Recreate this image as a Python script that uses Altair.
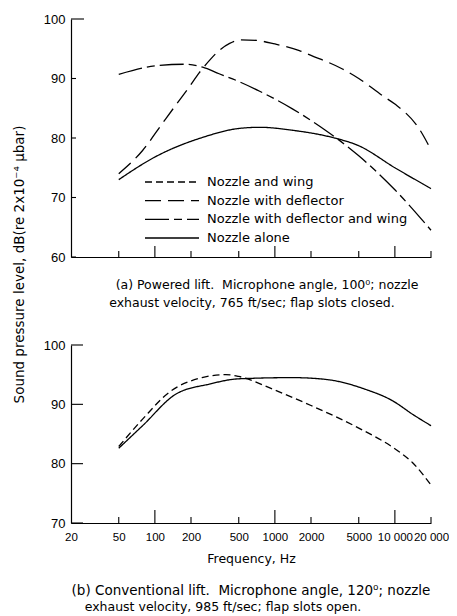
import altair as alt
import pandas as pd

FONT = "DejaVu Sans"
NUM_FONT = "Liberation Sans"

# ---------------- series names and dash styles ----------------
names = ["Nozzle and wing", "Nozzle with deflector",
         "Nozzle with deflector and wing", "Nozzle alone"]
dashes = [[7, 4], [16, 7], [24, 5, 8, 5], [1, 0]]

# ---------------- panel (a): powered lift ----------------
a_alone_f = [50, 100, 250, 500, 750, 1400, 3000, 5000, 10000, 20000]
a_alone_db = [73.0, 76.8, 80.1, 81.6, 81.8, 81.3, 80.1, 78.7, 75.0, 71.5]

a_defl_f = [50, 79, 115, 149, 192, 233, 284, 343, 420, 520, 700, 1000, 1600, 2000,
            3660, 5000, 7900, 10000, 16000, 20000]
a_defl_db = [74.0, 77.9, 82.4, 85.5, 88.5, 90.9, 93.0, 94.7, 95.9, 96.5, 96.4, 95.8, 94.7,
             93.9, 91.6, 90.0, 87.1, 85.7, 81.5, 78.0]

a_dw_f = [50, 108, 181, 250, 343, 500, 740, 1400, 2600, 3200, 5000, 10000, 20000]
a_dw_db = [90.7, 92.2, 92.4, 91.9, 90.8, 89.5, 87.9, 84.9, 81.4, 80.1, 77.0, 71.3, 64.5]

# ---------------- panel (b): conventional lift ----------------
b_alone_f = [50, 79, 149, 283, 500, 1400, 2660, 5740, 9570, 14100, 20000]
b_alone_db = [82.6, 86.4, 91.7, 93.4, 94.3, 94.5, 94.2, 92.5, 90.6, 88.3, 86.4]

b_wing_f = [50, 79, 131, 247, 390, 500, 1000, 2000, 5000, 10000, 14000, 20000]
b_wing_db = [82.9, 87.5, 92.0, 94.5, 95.0, 94.7, 92.4, 89.8, 86.0, 82.5, 80.2, 76.4]

# ---------------- axes ----------------
x_ticks = [20, 50, 100, 200, 500, 1000, 2000, 5000, 10000, 20000]
major_ticks = [100, 1000, 10000]
minor_ticks = [50, 200, 500, 2000, 5000, 20000]
a_yticks = [60, 70, 80, 90, 100]
b_yticks = [70, 80, 90, 100]

y_title = "Sound pressure level, dB(re 2x10\u207b\u2074 \u03bcbar)"
cap_a = ["(a) Powered lift.\u00a0 Microphone angle, 100\u2070; nozzle",
         "exhaust velocity, 765 ft/sec; flap slots closed."]
cap_b = ["(b) Conventional lift.\u00a0 Microphone angle, 120\u2070; nozzle",
         "exhaust velocity, 985 ft/sec; flap slots open."]


def series_df(pairs):
    frames = []
    for name, f, d in pairs:
        frames.append(pd.DataFrame({"freq": f, "db": d, "series": name}))
    return pd.concat(frames, ignore_index=True)


a_df = series_df([(names[1], a_defl_f, a_defl_db),
                  (names[2], a_dw_f, a_dw_db),
                  (names[3], a_alone_f, a_alone_db)])
b_df = series_df([(names[0], b_wing_f, b_wing_db),
                  (names[3], b_alone_f, b_alone_db)])

W = 360
H1 = 238
H2 = 178

xscale = alt.Scale(type="log", domain=[20, 20000])
dash_scale = alt.Scale(domain=names, range=dashes)


def caption_layer(text, x, y, size):
    return alt.Chart(pd.DataFrame({"t": [text]})).mark_text(
        align="center", baseline="middle", font=FONT, fontSize=size, color="black"
    ).encode(text="t:N", x=alt.value(x), y=alt.value(y))


def panel(df, ydom, yticks, H, ytick_len, ytop_len, xmaj_len, xmin_len, show_xlabels,
          with_ytitle):
    yscale = alt.Scale(domain=ydom, nice=False, zero=False)
    yaxis_kw = dict(values=yticks, ticks=False, grid=False, labelPadding=6,
                    labelFontSize=13, labelFont=NUM_FONT, labelColor="black",
                    domainColor="black", domainWidth=1.2)
    if with_ytitle:
        yaxis_kw.update(title=y_title, titleFont=FONT, titleFontSize=13.5,
                        titleFontWeight="normal", titleColor="black",
                        titleX=-45, titleY=-81)
    else:
        yaxis_kw.update(title=None)
    xaxis_kw = dict(values=x_ticks, ticks=False, grid=False, domainColor="black",
                    domainWidth=1.2)
    if show_xlabels:
        xaxis_kw.update(labels=True, labelFont=NUM_FONT, labelFontSize=11.5,
                        labelColor="black", labelPadding=8, labelFlush=False,
                        labelOverlap=False,
                        labelExpr="datum.value >= 10000 ? format(datum.value/1000, 'd') + ' 000' : format(datum.value, 'd')",
                        title="Frequency, Hz", titleFont=FONT, titleFontSize=12.5,
                        titleFontWeight="normal", titleColor="black", titlePadding=10)
    else:
        xaxis_kw.update(labels=False, title=None)

    lines = alt.Chart(df).mark_line(color="black", strokeWidth=1.3,
                                    interpolate="monotone").encode(
        x=alt.X("freq:Q", scale=xscale, axis=alt.Axis(**xaxis_kw)),
        y=alt.Y("db:Q", scale=yscale, axis=alt.Axis(**yaxis_kw)),
        strokeDash=alt.StrokeDash("series:N", scale=dash_scale, legend=None),
        detail="series:N",
    )

    xmaj = alt.Chart(pd.DataFrame({"freq": major_ticks})).mark_rule(
        color="black", strokeWidth=1.1).encode(
        x=alt.X("freq:Q", scale=xscale),
        y=alt.value(H), y2=alt.value(H - xmaj_len))
    xmin = alt.Chart(pd.DataFrame({"freq": minor_ticks})).mark_rule(
        color="black", strokeWidth=1.1).encode(
        x=alt.X("freq:Q", scale=xscale),
        y=alt.value(H), y2=alt.value(H - xmin_len))
    ytk = alt.Chart(pd.DataFrame({"db": yticks[:-1]})).mark_rule(
        color="black", strokeWidth=1.1).encode(
        y=alt.Y("db:Q", scale=yscale),
        x=alt.value(0), x2=alt.value(ytick_len))
    ytop = alt.Chart(pd.DataFrame({"db": yticks[-1:]})).mark_rule(
        color="black", strokeWidth=1.1).encode(
        y=alt.Y("db:Q", scale=yscale),
        x=alt.value(0), x2=alt.value(ytop_len))

    return alt.layer(lines, xmaj, xmin, ytk, ytop)


top_core = panel(a_df, [60, 100], a_yticks, H1, 5, 13, 11, 6, False, False)

leg_df = pd.DataFrame({"series": names, "row": list(range(len(names)))})
leg_y = alt.Y("row:Q", scale=alt.Scale(domain=[0, len(names) - 1], range=[163, 219]),
              axis=None)
leg_rule = alt.Chart(leg_df).mark_rule(color="black", strokeWidth=1.3).encode(
    y=leg_y, x=alt.value(74), x2=alt.value(128),
    strokeDash=alt.StrokeDash("series:N", scale=dash_scale, legend=None))
leg_text = alt.Chart(leg_df).mark_text(
    align="left", baseline="middle", font=FONT, fontSize=13, color="black").encode(
    y=leg_y, x=alt.value(136), text="series:N")
legend = alt.layer(leg_rule, leg_text)

top = alt.layer(
    top_core, legend,
    caption_layer(cap_a[0], 196, 266, 12.5),
    caption_layer(cap_a[1], 181, 284, 12.5),
).resolve_scale(y="independent").properties(width=W, height=H1)

bottom_core = panel(b_df, [70, 100], b_yticks, H2, 12, 12, 13, 6, True, True)
bottom = alt.layer(
    bottom_core,
    caption_layer(cap_b[0], 180, 246, 13.5),
    caption_layer(cap_b[1], 152, 262, 12.5),
).properties(width=W, height=H2)

chart = alt.vconcat(top, bottom, spacing=88, bounds="flush").configure_view(
    stroke=None).properties(padding={"left": 3, "top": 5, "right": 0, "bottom": 5})

chart.save("out.html", embed_options={"renderer": "svg", "actions": False})
